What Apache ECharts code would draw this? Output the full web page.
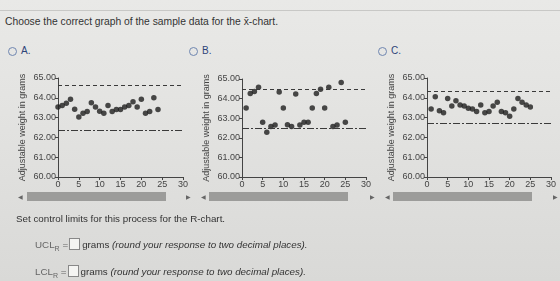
<!DOCTYPE html>
<html>
<head>
<meta charset="utf-8">
<script src="https://cdn.jsdelivr.net/npm/echarts@6/dist/echarts.min.js"></script>
<style>
  html, body { margin: 0; padding: 0; }
  body {
    width: 560px; height: 281px; overflow: hidden; position: relative;
    font-family: "Liberation Sans", Arial, sans-serif; color: #333;
    background: linear-gradient(180deg, #e9e9e7 0%, #e3e3e1 40%, #d9d9d7 100%);
  }
  #topline { position: absolute; left: 0; top: 10px; width: 560px; height: 1px; background: #c8c8c6; }
  #chart { position: absolute; left: 0; top: 0; width: 560px; height: 281px; }
  .txt { position: absolute; white-space: nowrap; font-size: 10.3px; }
  .radio { position: absolute; width: 7px; height: 7px; border: 1.3px solid #6f86b0; border-radius: 50%; }
  .opt { position: absolute; font-size: 10px; color: #2d4478; }
  .bar { position: absolute; height: 9px; background: #9c9c9a; top: 192px; }
  .arr { position: absolute; font-size: 6px; color: #666; top: 193px; }
  .box { display: inline-block; width: 9px; height: 10px; border: 1px solid #888; background: #f4f4f2; vertical-align: -2px; margin: 0 2px 0 1px; }
  sub { font-size: 7px; }
</style>
</head>
<body>
<div id="topline"></div>
<div class="txt" style="left:5px; top:16px;">Choose the correct graph of the sample data for the x&#772;-chart.</div>
<div class="radio" style="left:8px; top:47px;"></div><div class="opt" style="left:21px; top:45px;">A.</div>
<div class="radio" style="left:189px; top:47px;"></div><div class="opt" style="left:202px; top:45px;">B.</div>
<div class="radio" style="left:378px; top:47px;"></div><div class="opt" style="left:391px; top:45px;">C.</div>
<div id="chart"></div>
<div class="arr" style="left:18px;">&#9664;</div><div class="bar" style="left:27px; width:139px;"></div><div class="arr" style="left:186px;">&#9654;</div>
<div class="arr" style="left:201px;">&#9664;</div><div class="bar" style="left:209px; width:139px;"></div><div class="arr" style="left:370px;">&#9654;</div>
<div class="arr" style="left:385px;">&#9664;</div><div class="bar" style="left:393px; width:139px;"></div><div class="arr" style="left:553px;">&#9654;</div>
<div class="txt" style="left:16px; top:213px; font-size:9.8px;">Set control limits for this process for the R-chart.</div>
<div class="txt" style="left:35px; top:238px; font-size:9.8px; color:#666;">UCL<sub>R</sub> =<span class="box"></span><span style="color:#333">grams <i>(round your response to two decimal places).</i></span></div>
<div class="txt" style="left:35px; top:265px; font-size:9.8px; color:#666;">LCL<sub>R</sub> =<span class="box"></span><span style="color:#333">grams <i>(round your response to two decimal places).</i></span></div>
<script>
// sample numbers for each option
var sampleA = [0,1,2,3,4,5,6,7,8,9,10,11,12,13,14,15,16,17,18,19,20,21,22,23,24];
var sampleBC = [1,2,3,4,5,6,7,8,9,10,11,12,13,14,15,16,17,18,19,20,21,22,23,24,25];

// sample means (grams)
var meansA = [63.54,63.61,63.73,63.93,63.42,63.03,63.22,63.31,63.75,63.54,63.32,63.22,63.61,63.31,63.41,63.41,63.53,63.61,63.80,63.54,63.93,63.22,63.31,64.00,63.41];
var meansB = [63.52,64.26,64.36,64.58,62.79,62.28,62.58,62.65,64.34,63.52,62.67,62.58,64.24,62.65,62.79,62.79,63.52,64.26,64.48,63.52,64.58,62.58,62.65,64.82,62.79];
var meansC = [63.44,64.05,63.34,63.24,63.97,63.58,63.85,63.64,63.58,63.47,63.44,63.31,63.64,63.24,63.31,63.58,63.78,63.31,63.24,63.07,63.44,63.97,63.78,63.64,63.54];

// control limits drawn on each graph
var uclA = 64.61, lclA = 62.37;
var uclB = 64.46, lclB = 62.50;
var uclC = 64.31, lclC = 62.73;

var yTicks = ['60.00','61.00','62.00','63.00','64.00','65.00'];

var myChart = echarts.init(document.getElementById('chart'));

function pairs(xs, ys) {
  return ys.map(function (v, i) { return [xs[i], v]; });
}

var grids = [
  {left: 58, top: 78, width: 125, height: 99},
  {left: 242, top: 79, width: 124, height: 98},
  {left: 427, top: 78, width: 124, height: 99}
];

var axisColor = '#444';
var xAxes = [], yAxes = [], series = [];
var sets = [
  {x: sampleA, y: meansA, ucl: uclA, lcl: lclA},
  {x: sampleBC, y: meansB, ucl: uclB, lcl: lclB},
  {x: sampleBC, y: meansC, ucl: uclC, lcl: lclC}
];

sets.forEach(function (s, i) {
  xAxes.push({
    gridIndex: i, type: 'value', min: 0, max: 30, interval: 5,
    axisLine: {lineStyle: {color: axisColor, width: 1}},
    axisTick: {length: 3, lineStyle: {color: axisColor}},
    axisLabel: {fontSize: 9, color: '#444', margin: 3, fontFamily: 'Liberation Sans'},
    splitLine: {show: false}
  });
  yAxes.push({
    gridIndex: i, type: 'value', min: 60, max: 65, interval: 1,
    name: 'Adjustable weight in grams', nameLocation: 'middle', nameGap: 31,
    nameTextStyle: {fontSize: 9, color: '#444', fontFamily: 'Liberation Sans'},
    axisLine: {show: true, lineStyle: {color: axisColor, width: 1}},
    axisTick: {show: true, length: 3, lineStyle: {color: axisColor}},
    axisLabel: {fontSize: 9, color: '#444', margin: 2, fontFamily: 'Liberation Sans',
      formatter: function (v) { return yTicks[Math.round(v - 60)]; }},
    splitLine: {show: false}
  });
  series.push({
    type: 'scatter', xAxisIndex: i, yAxisIndex: i,
    symbolSize: 5.5, itemStyle: {color: '#1e1e1e'},
    data: pairs(s.x, s.y),
    markLine: {
      silent: true, symbol: 'none', label: {show: false},
      data: [
        {yAxis: s.ucl, lineStyle: {type: [4, 3], color: '#3a3a3a', width: 1.2}},
        {yAxis: s.lcl, lineStyle: {type: [7, 2, 2, 2], color: '#3a3a3a', width: 1.2}}
      ]
    }
  });
});

myChart.setOption({
  animation: false,
  grid: grids,
  xAxis: xAxes,
  yAxis: yAxes,
  series: series
});
</script>
</body>
</html>
